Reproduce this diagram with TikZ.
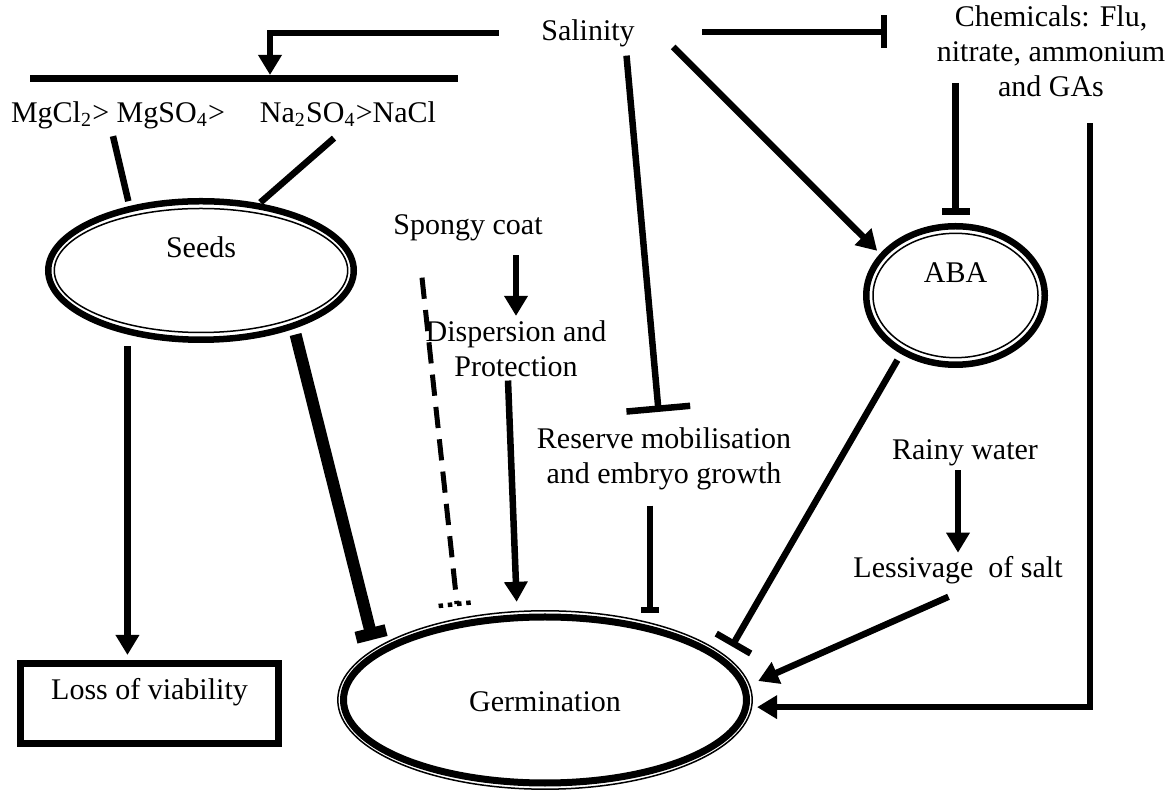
\documentclass[tikz,border=0pt]{standalone}
\usepackage{fontspec}
\setmainfont{Liberation Serif}
\usetikzlibrary{arrows.meta,shapes.geometric,calc}
\begin{document}
\begin{tikzpicture}
[x=0.4pt,y=-0.4pt,%
  textDecorate/.style={inner sep=0pt,align=center,font=\fontsize{12}{14}\selectfont},%
  ringDecorate/.style={textDecorate,shape=ellipse,draw,line width=2.6pt},%
  boxDecorate/.style={textDecorate,shape=rectangle,draw,line width=2.8pt},%
  lineDecorate/.style={line width=2.6pt},%
  arrowDecorate/.style={lineDecorate,-{Triangle[width=9pt,length=8pt]}},%
  stopDecorate/.style={lineDecorate,-{Bar[width=#1]}},%
  dashDecorate/.style={line width=2pt,dash pattern=on 8.5pt off 4.5pt},%
  dotDecorate/.style={line width=1.8pt,dash pattern=on 1.8pt off 1.9pt}]
\useasboundingbox (0,0) rectangle (1172,790);
%% text nodes
\foreach \nodename/\x/\y/\nodetext in {
  sal/588/33/Salinity,
  mgs/118/115/{MgCl\textsubscript{2}> MgSO\textsubscript{4}>},
  nas/348/114/{Na\textsubscript{2}SO\textsubscript{4}>NaCl},
  coat/468/228/Spongy coat,
  disp/516/349/{Dispersion and\\Protection},
  res/664/459/{Reserve mobilisation\\and embryo growth},
  chem/1051/51/{Chemicals: Flu,\\nitrate, ammonium\\and GAs},
  rain/965/453/Rainy water,
  less/958/570/{Lessivage~ of salt}}
{
  \node (\nodename) at (\x,\y) [textDecorate] {\nodetext};
}
%% salt bar, rings and box
\node (saltbar) at (244,79) [fill,inner sep=0pt,minimum width=171.2pt,minimum height=2.8pt] {};
\node (seeds) at (201,270.5) [ringDecorate,minimum width=122.2pt,minimum height=55.4pt,
  text height=8pt,text depth=18pt] {Seeds};
\node (aba) at (955.5,295.5) [ringDecorate,minimum width=71.4pt,minimum height=55.4pt,
  text height=8pt,text depth=18pt] {ABA};
\node (germ) at (545,700) [ringDecorate,line width=2.8pt,minimum width=161.2pt,minimum height=66.4pt,
  text height=9.6pt,text depth=0pt] {Germination};
\node (loss) at (149.5,703.5) [boxDecorate,minimum width=103.2pt,minimum height=32pt,
  text height=8pt,text depth=10.8pt] {Loss of viability};
%% thin rims
\foreach \nodename/\rx/\ry in {seeds/146.7/62, aba/82.5/62.2, germ/207.2/89.2}
  \draw[line width=0.6pt] (\nodename.center) ellipse [x radius=\rx, y radius=\ry];
%% edges
\coordinate (coatstart) at ($(coat.south)+(-46,36)$);
\coordinate (coatend) at (457,604);
\coordinate (resfoot) at ($(res.south)+(-14,0)$);
\coordinate (salright) at ($(sal.east)+(67,-1)$);
\coordinate (chemfoot) at ($(aba.north |- chem.center)+(0,32)$);
\draw[arrowDecorate] ($(sal.west)+(-42,0)$) -| ($(saltbar.north)+(26,0)$);
\draw[lineDecorate,shorten >=2pt] ($(mgs.south)+(-5,7)$) -- (seeds.138);
\draw[lineDecorate,shorten >=0.5pt] ($(nas.south)+(-14,11)$) -- (seeds.49);
\draw[arrowDecorate,shorten <=4.8pt,shorten >=2pt] (seeds.-139.6) -- (seeds.-139.6 |- loss.north);
\draw[stopDecorate=12.4pt,line width=4.8pt,shorten <=2.4pt,shorten >=4.8pt] (seeds.-32.6) -- (germ.164);
\draw[arrowDecorate,shorten <=5.4pt,shorten >=1.8pt] (coat.south -| disp.north) -- (disp.north);
\draw[arrowDecorate,shorten >=5pt] ($(disp.south)+(-8,3)$) -- (germ.108.2);
\draw[dashDecorate] (coatstart) -- (coatend);
\draw[dotDecorate] ($(coatend)!7.4pt!90:(coatstart)$) -- ($(coatend)!7.4pt!-90:(coatstart)$);
\draw[stopDecorate=25.6pt,shorten >=6.2pt] ($(sal.south)+(38.5,8.5)$) -- ($(res.north)+(-4,0)$);
\draw[stopDecorate=7.2pt,shorten <=6pt] (resfoot) -- (resfoot |- germ.north);
\draw[arrowDecorate,shorten >=1.6pt] ($(sal.east)+(38,14)$) -- (aba.151);
\draw[stopDecorate=13.2pt,shorten >=19.6pt] (salright) -- (salright -| chem.west);
\draw[stopDecorate=11.2pt,shorten >=3.2pt] (chemfoot) -- (aba.north);
\draw[stopDecorate=15.9pt,shorten <=2.8pt,shorten >=5.6pt] (aba.-133.7) -- (germ.13);
\draw[arrowDecorate,shorten <=1.4pt,shorten >=1.2pt] (rain.south -| less.north) -- (less.north);
\draw[arrowDecorate,shorten >=4.8pt] ($(less.south)+(-9.5,12.5)$) -- (germ.4.6);
\draw[arrowDecorate,shorten >=3.1pt] ($(chem.south)+(39,26)$) |- (germ.-2);
\end{tikzpicture}
\end{document}
